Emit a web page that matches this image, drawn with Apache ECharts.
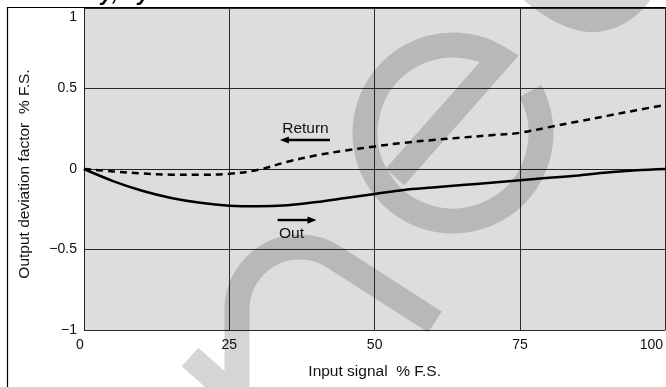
<!DOCTYPE html>
<html>
<head>
<meta charset="utf-8">
<style>
  html, body { margin: 0; padding: 0; background: #ffffff; }
  #chart { width: 666px; height: 387px; }
</style>
<script src="https://cdn.jsdelivr.net/npm/echarts@6/dist/echarts.min.js"></script>
</head>
<body>
<div id="chart"></div>
<script>
// Input signal (% F.S.) sample points
const inputSignal = [0, 5, 10, 15, 20, 25, 30, 35, 40, 45, 50, 55, 60, 65, 70, 75, 80, 85, 90, 95, 100];
// Output deviation on the rising ("Out") stroke, % F.S.
const outDeviation = [0, -0.075, -0.135, -0.18, -0.21, -0.228, -0.232, -0.225, -0.205, -0.18, -0.155,
  -0.13, -0.115, -0.1, -0.085, -0.07, -0.055, -0.04, -0.022, -0.008, 0];
// Output deviation on the falling ("Return") stroke, % F.S.
const returnDeviation = [0, -0.015, -0.028, -0.035, -0.036, -0.03, -0.005, 0.045, 0.085, 0.115, 0.14,
  0.163, 0.18, 0.195, 0.21, 0.225, 0.26, 0.295, 0.33, 0.365, 0.398];

// Axis ticks and their printed labels
const xTicks = [0, 25, 50, 75, 100];
const xTickLabels = ['0', '25', '50', '75', '100'];
const yTicks = [-1, -0.5, 0, 0.5, 1];
const yTickLabels = ['\u22121', '\u22120.5', '0', '0.5', '1'];

// Direction annotations in data units: arrow from -> to, and the caption
const returnArrow = { from: [42.3, 0.18], to: [33.7, 0.18], text: 'Return', textAt: [38.1, 0.248] };
const outArrow = { from: [33.3, -0.317], to: [40.0, -0.317], text: 'Out', textAt: [35.7, -0.404] };

const FONT = '"Liberation Sans", Arial, Helvetica, sans-serif';
const INK = '#111111';
const GRID_LINE = '#2a2a2a';
const SHADE = 'rgba(0,0,0,0.165)';
const TICK_SIZE = 14;
const NAME_SIZE = 15.5;

// Background emblem outlines (page pixels)
echarts.graphic.registerShape('emblemStroke', echarts.graphic.extendPath(
  'M 530.3 91 A 88 88 0 1 1 499.6 58.4 L 395 177 ' +
  'M 237 412 L 237 310 A 62.8 62.8 0 0 1 334.2 257.3 L 435 322 ' +
  'M 190 357 L 243 404', {}));
echarts.graphic.registerShape('emblemCap', echarts.graphic.extendPath(
  'M 521 -2 C 545 18 570 33 595 32 C 620 31 640 15 652 -2 Z', {}));

const chart = echarts.init(document.getElementById('chart'), null, { renderer: 'canvas' });

function pairs(xs, ys) { return xs.map((x, i) => [x, ys[i]]); }

function xLabel(v) {
  const i = xTicks.indexOf(v);
  const t = i >= 0 ? xTickLabels[i] : '';
  if (v === 0) return '{first|' + t + '}';
  if (v === 100) return '{last|' + t + '}';
  return t;
}
function yLabel(v) {
  const i = yTicks.findIndex(t => Math.abs(t - v) < 1e-9);
  const t = i >= 0 ? yTickLabels[i] : '';
  if (Math.abs(v - 1) < 1e-9) return '{top|' + t + '}';
  return t;
}

const option = {
  animation: false,
  backgroundColor: '#ffffff',
  grid: {
    left: 84, right: 0, top: 8, bottom: 57,
    show: true, backgroundColor: '#dddddd', borderWidth: 0
  },
  xAxis: {
    type: 'value', min: 0, max: 100, interval: 25,
    name: 'Input signal  % F.S.', nameLocation: 'middle', nameGap: 34,
    nameTextStyle: { fontFamily: FONT, fontSize: NAME_SIZE, color: INK },
    axisLine: { show: true, lineStyle: { color: '#222', width: 1 } },
    axisTick: { show: false },
    splitLine: { show: true, lineStyle: { color: GRID_LINE, width: 1 } },
    axisLabel: {
      fontFamily: FONT, fontSize: TICK_SIZE, color: INK, margin: 8,
      showMinLabel: true, showMaxLabel: true,
      formatter: xLabel,
      rich: {
        first: { fontFamily: FONT, fontSize: TICK_SIZE, color: INK, padding: [0, 8, 0, 0] },
        last: { fontFamily: FONT, fontSize: TICK_SIZE, color: INK, padding: [0, 28, 0, 0] }
      }
    }
  },
  yAxis: {
    type: 'value', min: -1, max: 1, interval: 0.5,
    name: 'Output deviation factor  % F.S.', nameLocation: 'middle', nameGap: 51,
    nameTextStyle: { fontFamily: FONT, fontSize: NAME_SIZE, color: INK, padding: [0, 10, 0, 0] },
    axisLine: { show: true, lineStyle: { color: '#222', width: 1 } },
    axisTick: { show: false },
    splitLine: { show: true, lineStyle: { color: GRID_LINE, width: 1 } },
    axisLabel: {
      fontFamily: FONT, fontSize: TICK_SIZE, color: INK, margin: 7,
      showMinLabel: true, showMaxLabel: true,
      formatter: yLabel,
      rich: {
        top: { fontFamily: FONT, fontSize: TICK_SIZE, color: INK, padding: [18, 0, 0, 0] }
      }
    }
  },
  series: [
    {
      name: 'Out', type: 'line', data: pairs(inputSignal, outDeviation),
      smooth: 0.35, symbol: 'none', z: 3,
      lineStyle: { color: '#000', width: 2.5 }
    },
    {
      name: 'Return', type: 'line', data: pairs(inputSignal, returnDeviation),
      smooth: 0.35, symbol: 'none', z: 3,
      lineStyle: { color: '#000', width: 2.5, type: [7, 5] }
    }
  ],
  graphic: [
    // heading line running above the figure frame
    {
      type: 'text', id: 'heading', x: 21, y: 5, z: 1, silent: true,
      style: {
        text: 'Linearity, hysteresis', fill: '#000',
        font: 'italic bold 22px ' + FONT, verticalAlign: 'bottom'
      }
    },
    // figure frame
    {
      type: 'rect', id: 'frame', z: 1, silent: true,
      shape: { x: 7.5, y: 7.5, width: 900, height: 600 },
      style: { fill: null, stroke: '#000', lineWidth: 1.2 }
    },
    // background emblem
    {
      type: 'emblemStroke', id: 'emblem', z: 20, silent: true,
      style: { fill: null, stroke: SHADE, lineWidth: 25, lineJoin: 'miter', lineCap: 'butt', miterLimit: 10 }
    },
    {
      type: 'emblemCap', id: 'emblemTop', z: 20, silent: true,
      style: { fill: SHADE, stroke: null }
    }
  ]
};

chart.setOption(option);

// Direction arrows and captions, placed in data coordinates
function arrowGraphics(a, idBase) {
  const p0 = chart.convertToPixel({ gridIndex: 0 }, a.from);
  const p1 = chart.convertToPixel({ gridIndex: 0 }, a.to);
  const pt = chart.convertToPixel({ gridIndex: 0 }, a.textAt);
  const dx = p1[0] - p0[0], dy = p1[1] - p0[1];
  const len = Math.hypot(dx, dy), ux = dx / len, uy = dy / len;
  const head = 9, half = 3.6;
  const bx = p1[0] - ux * head, by = p1[1] - uy * head;
  return [
    {
      type: 'line', id: idBase + 'Shaft', z: 30, silent: true,
      shape: { x1: p0[0], y1: p0[1], x2: bx + ux, y2: by + uy },
      style: { stroke: '#000', lineWidth: 2.4 }
    },
    {
      type: 'polygon', id: idBase + 'Head', z: 30, silent: true,
      shape: { points: [[p1[0], p1[1]], [bx - uy * half, by + ux * half], [bx + uy * half, by - ux * half]] },
      style: { fill: '#000' }
    },
    {
      type: 'text', id: idBase + 'Text', z: 30, silent: true, x: pt[0], y: pt[1],
      style: { text: a.text, fill: INK, font: NAME_SIZE + 'px ' + FONT, align: 'center', verticalAlign: 'middle' }
    }
  ];
}

chart.setOption({ graphic: arrowGraphics(returnArrow, 'ret').concat(arrowGraphics(outArrow, 'out')) });
</script>
</body>
</html>
